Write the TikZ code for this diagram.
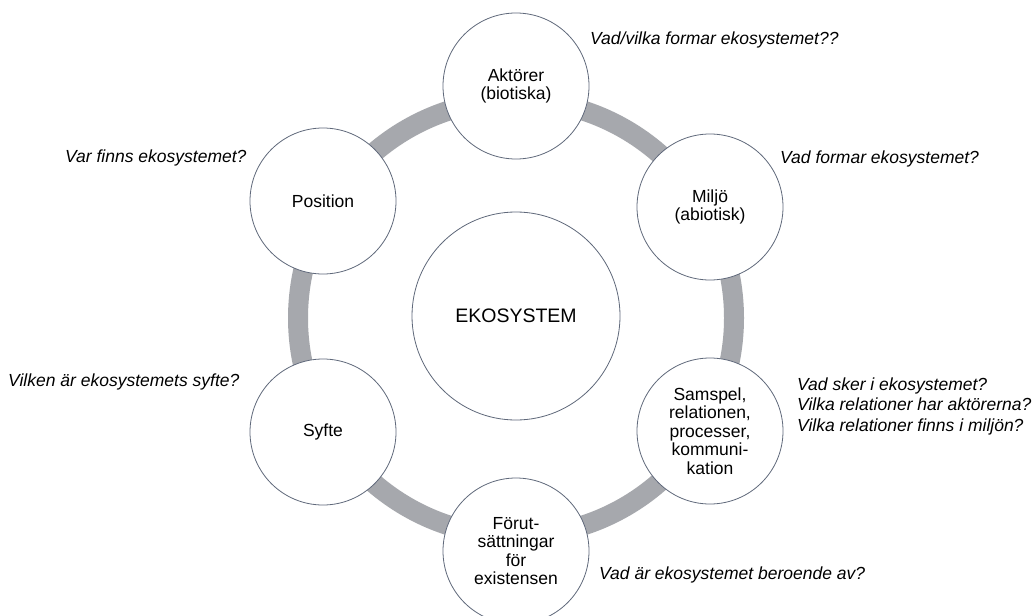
\documentclass[tikz,border=0pt]{standalone}
\usepackage{fontspec}
\setmainfont{Liberation Sans}
\definecolor{ringgray}{RGB}{166,168,173}
\definecolor{edgegray}{RGB}{95,104,122}
\begin{document}
\begin{tikzpicture}[x=1pt,y=-1pt,
  bubble/.style={circle,draw=edgegray,line width=0.8pt,fill=white,minimum size=146pt,inner sep=0pt,align=center,font=\fontsize{17.5}{18.4}\selectfont},
  core/.style={circle,draw=edgegray,line width=0.8pt,fill=white,minimum size=208pt,inner sep=0pt,font=\fontsize{19.5}{22}\selectfont},
  question/.style={inner sep=0pt,align=left,font=\fontsize{17.5}{20.7}\selectfont\itshape}]
\clip (0,0) rectangle (1032,615);
\fill[white] (0,0) rectangle (1032,615);
\coordinate (ringc) at (516,318);
\draw[ringgray,line width=20pt] (ringc) circle [radius=218];
\node[core] (eko) at (516,316) {EKOSYSTEM};
\node[bubble] (akt) at (516,86) {Aktörer\\(biotiska)};
\node[bubble] (mil) at (710,207) {Miljö\\(abiotisk)};
\node[bubble] (sam) at (710,431) {Samspel,\\relationen,\\processer,\\kommuni-\\kation};
\node[bubble] (for) at (516,551) {Förut-\\sättningar\\för\\existensen};
\node[bubble] (syf) at (323,432) {Syfte};
\node[bubble] (pos) at (323,201) {Position};
\node[question,anchor=base west] (q1) at (590,45) {Vad/vilka formar ekosystemet??};
\node[question,anchor=base west] (q2) at (780,163) {Vad formar ekosystemet?};
\node[question,anchor=base west] (q3) at (65,162) {Var finns ekosystemet?};
\node[question,anchor=base west] (q4) at (8,386) {Vilken är ekosystemets syfte?};
\node[question,anchor=north west] (q5) at (797,377.4) {Vad sker i ekosystemet?\\Vilka relationer har aktörerna?\\Vilka relationer finns i miljön?};
\node[question,anchor=base west] (q6) at (599,579) {Vad är ekosystemet beroende av?};
\end{tikzpicture}
\end{document}
